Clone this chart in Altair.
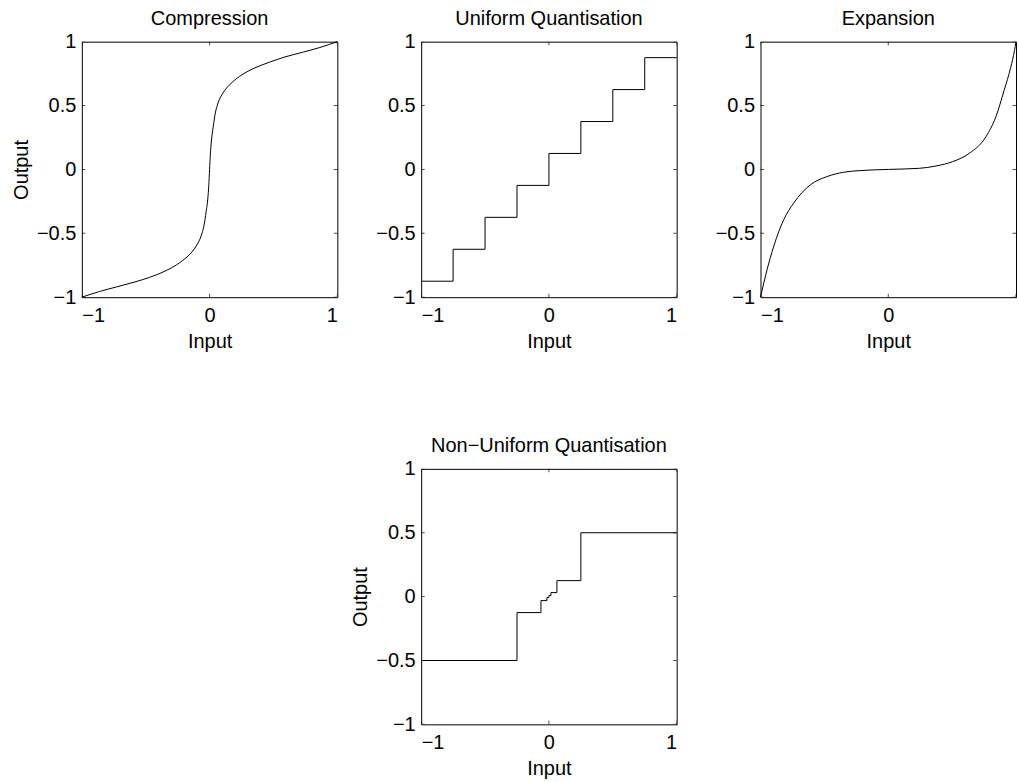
import altair as alt
import pandas as pd

FONT = "Liberation Sans"
FS = 20
SIDE = 256

# Compression characteristic (input -> output)
comp_x = [-1, -0.86, -0.73, -0.6, -0.47, -0.34, -0.26, -0.21, -0.16, -0.105, -0.066, -0.045,
          -0.027, -0.014, -0.006, 0, 0.006, 0.014, 0.027, 0.045, 0.066, 0.105, 0.157, 0.209,
          0.261, 0.339, 0.468, 0.598, 0.728, 0.858, 1]
comp_y = [-1, -0.955, -0.92, -0.885, -0.845, -0.792, -0.748, -0.712, -0.67, -0.6, -0.52, -0.445,
          -0.33, -0.23, -0.12, 0, 0.118, 0.222, 0.325, 0.442, 0.52, 0.598, 0.663, 0.71,
          0.746, 0.788, 0.839, 0.883, 0.917, 0.953, 1]

# Uniform quantiser: step start and output level
uq_x = [-1, -0.75, -0.5, -0.25, 0, 0.25, 0.5, 0.75, 1]
uq_y = [-0.875, -0.625, -0.375, -0.125, 0.125, 0.375, 0.625, 0.875, 0.875]

# Expansion characteristic
exp_x = [-1, -0.948, -0.896, -0.818, -0.74, -0.61, -0.48, -0.35, -0.22, 0, 0.245, 0.374,
         0.504, 0.634, 0.764, 0.842, 0.907, 0.959, 0.988, 1]
exp_y = [-1, -0.782, -0.6, -0.393, -0.263, -0.121, -0.056, -0.022, -0.009, 0, 0.009, 0.027,
         0.061, 0.126, 0.255, 0.411, 0.619, 0.8, 0.93, 1]

# Non-uniform quantiser: step start and output level
nq_x = [-1, -0.25, -0.0625, -0.0156, 0, 0.0156, 0.0625, 0.25, 1]
nq_y = [-0.5, -0.125, -0.03125, -0.0078, 0.0078, 0.03125, 0.125, 0.5, 0.5]

x_ticks = [-1, 0, 1]
y_ticks = [-1, -0.5, 0, 0.5, 1]

axis_style = dict(
    domain=False, ticks=False, grid=False, format=".1~f",
    labelFont=FONT, labelFontSize=FS, labelColor="black",
    titleFont=FONT, titleFontSize=FS, titleColor="black", titleFontWeight="normal",
)

# Inward tick marks on all four sides of each box
xt_df = pd.DataFrame([(v, e) for v in x_ticks for e in (-1, 1)], columns=["x", "y"])
yt_df = pd.DataFrame([(e, v) for v in y_ticks for e in (-1, 1)], columns=["x", "y"])


def panel(xs, ys, title, interp, y_title=None, x_labels=x_ticks):
    scale = alt.Scale(domain=[-1, 1], nice=False, zero=False)
    x_enc = alt.X("x:Q", scale=scale,
                  axis=alt.Axis(values=x_labels, title="Input", labelPadding=8,
                                titlePadding=6, **axis_style))
    y_enc = alt.Y("y:Q", scale=scale,
                  axis=alt.Axis(values=y_ticks, title=y_title, labelPadding=6,
                                titlePadding=5, **axis_style))
    line = alt.Chart(pd.DataFrame({"x": xs, "y": ys})).mark_line(
        color="black", strokeWidth=1, interpolate=interp
    ).encode(x=x_enc, y=y_enc)
    xt = alt.Chart(xt_df).mark_tick(orient="vertical", size=7, thickness=1,
                                    color="black", clip=True).encode(x=x_enc, y=y_enc)
    yt = alt.Chart(yt_df).mark_tick(orient="horizontal", size=7, thickness=1,
                                    color="black", clip=True).encode(x=x_enc, y=y_enc)
    return alt.layer(line, xt, yt).properties(
        width=SIDE, height=SIDE,
        title=alt.TitleParams(title, font=FONT, fontSize=FS, fontWeight="normal",
                              color="black", offset=3),
    )


c1 = panel(comp_x, comp_y, "Compression", "monotone", y_title="Output")
c2 = panel(uq_x, uq_y, "Uniform Quantisation", "step-after")
c3 = panel(exp_x, exp_y, "Expansion", "monotone", x_labels=[-1, 0])
c4 = panel(nq_x, nq_y, "Non\u2212Uniform Quantisation", "step-after", y_title="Output")

blank = alt.Chart(pd.DataFrame({"x": [0]})).mark_point(opacity=0).encode(
    x=alt.X("x:Q", axis=None), y=alt.Y("x:Q", axis=None)
).properties(width=SIDE, height=SIDE, view=alt.ViewBackground(strokeOpacity=0))

chart = alt.concat(
    c1, c2, c3, blank, c4, columns=3,
    spacing={"row": 172, "column": 84}, bounds="flush",
).properties(
    padding={"left": 11, "top": 7, "right": 0, "bottom": 0},
    background="white",
).configure_view(stroke="black", strokeWidth=1)

chart.save("out.html", embed_options={"renderer": "svg", "actions": False})
